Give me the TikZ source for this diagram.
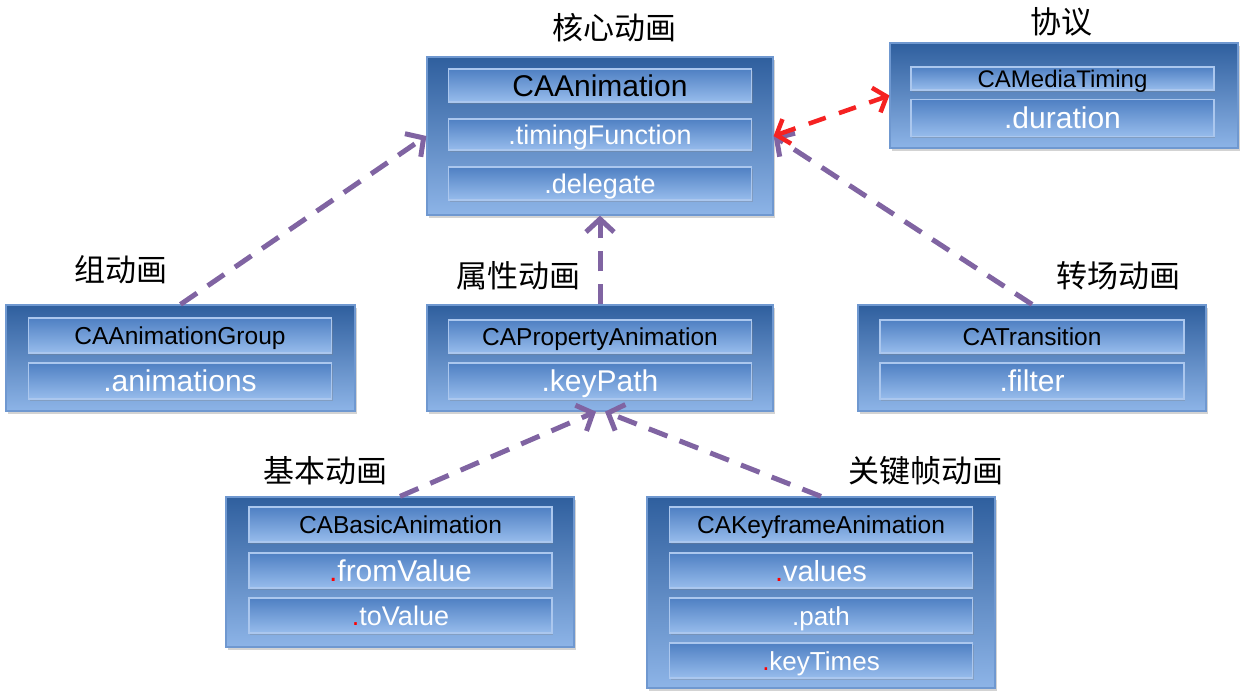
\documentclass[tikz,border=0pt]{standalone}
\usepackage{fontspec}
\setmainfont{Liberation Sans}
\newfontfamily\cjk{Noto Sans CJK SC}
\usetikzlibrary{arrows.meta,shadows}
\definecolor{boxtop}{HTML}{2F5F9E}
\definecolor{boxbot}{HTML}{8DB4E7}
\definecolor{boxedge}{HTML}{6F98D0}
\definecolor{bartop}{HTML}{4F80C3}
\definecolor{barbot}{HTML}{97BCEC}
\definecolor{baredge}{HTML}{ABC7EE}
\definecolor{purp}{HTML}{8064A2}
\definecolor{redc}{HTML}{F52222}
\begin{document}
\begin{tikzpicture}[x=1pt,y=-1pt,
  outer/.style={draw=boxedge, line width=1.2pt, top color=boxtop, bottom color=boxbot,
    inner sep=0, drop shadow={shadow xshift=2pt, shadow yshift=-3pt, opacity=0.35}},
  bar/.style={draw=baredge, line width=1.5pt, top color=bartop, bottom color=barbot,
    inner sep=0, minimum width=303pt,
    drop shadow={shadow xshift=1pt, shadow yshift=-2pt, opacity=0.3}},
  ttl/.style={bar, text=black, font={\fontsize{24.5}{28}\selectfont}, text height=17.6pt, text depth=0pt},
  big/.style={bar, text=black, font={\fontsize{30}{34}\selectfont}, text height=21.5pt, text depth=0pt},
  vA/.style={bar, text=white, font={\fontsize{30}{34}\selectfont}, text height=21.5pt, text depth=0pt},
  vB/.style={bar, text=white, font={\fontsize{27}{31}\selectfont}, text height=19.4pt, text depth=0pt},
  lbl/.style={font={\cjk\fontsize{31}{36}\selectfont}, inner sep=0},
  dep/.style={draw=purp, line width=5pt, dash pattern=on 20pt off 13pt,
    -{Straight Barb[length=13pt,width=28pt]}},
  proto/.style={draw=redc, line width=4.5pt, dash pattern=on 18pt off 14pt,
    {Straight Barb[length=11pt,width=26pt]}-{Straight Barb[length=11pt,width=26pt]}}
]
\useasboundingbox (0,0) rectangle (1240,698);

% CAAnimation
\node[outer, minimum width=346pt, minimum height=158pt] (anim) at (600,136) {};
\node[big, minimum height=33pt] (anim1) at (600,85.5) {CAAnimation};
\node[vB, minimum height=31pt] (anim2) at (600,134.5) {.timingFunction};
\node[vB, minimum height=33pt] (anim3) at (600,183.5) {.delegate};
\node[lbl] (animl) at (614,28) {核心动画};

% CAMediaTiming
\node[outer, minimum width=348pt, minimum height=105pt] (timing) at (1064,95.5) {};
\node[ttl, minimum height=23pt, font={\fontsize{24}{28}\selectfont}] (timing1) at (1062.5,78.5) {CAMediaTiming};
\node[vA, minimum height=37pt] (timing2) at (1062.5,118) {.duration};
\node[lbl] (timingl) at (1061,22) {协议};

% CAAnimationGroup
\node[outer, minimum width=349pt, minimum height=106pt] (group) at (180.5,358) {};
\node[ttl, minimum height=35pt] (group1) at (180,335.5) {CAAnimationGroup};
\node[vA, minimum height=36pt] (group2) at (180,381) {.animations};
\node[lbl] (groupl) at (121,270) {组动画};

% CAPropertyAnimation
\node[outer, minimum width=346pt, minimum height=106pt] (prop) at (600,358) {};
\node[ttl, minimum height=33pt] (prop1) at (600,336.5) {CAPropertyAnimation};
\node[vA, minimum height=36pt] (prop2) at (600,381) {.keyPath};
\node[lbl] (propl) at (518,276) {属性动画};

% CATransition
\node[outer, minimum width=348pt, minimum height=106pt] (trans) at (1032,358) {};
\node[ttl, minimum height=33pt, minimum width=304pt] (trans1) at (1032,336.5) {CATransition};
\node[vA, minimum height=36pt, minimum width=304pt] (trans2) at (1032,381) {.filter};
\node[lbl] (transl) at (1118,276) {转场动画};

% CABasicAnimation
\node[outer, minimum width=348pt, minimum height=150pt] (basic) at (400,572) {};
\node[ttl, minimum height=35pt] (basic1) at (400.5,524.5) {CABasicAnimation};
\node[vA, minimum height=35pt] (basic2) at (400.5,570.5) {\textcolor{red}{.}fromValue};
\node[vB, minimum height=35pt] (basic3) at (400.5,615.5) {\textcolor{red}{.}toValue};
\node[lbl] (basicl) at (325,471) {基本动画};

% CAKeyframeAnimation
\node[outer, minimum width=348pt, minimum height=191pt] (kf) at (821,592.5) {};
\node[ttl, minimum height=35pt] (kf1) at (821,524.5) {CAKeyframeAnimation};
\node[vA, minimum height=35pt, font={\fontsize{29}{33}\selectfont}] (kf2) at (821,570.5) {\textcolor{red}{.}values};
\node[vB, minimum height=35pt, font={\fontsize{26}{30}\selectfont}] (kf3) at (821,615.5) {.path};
\node[vB, minimum height=35pt, font={\fontsize{26}{30}\selectfont}] (kf4) at (821,660.5) {\textcolor{red}{.}keyTimes};
\node[lbl] (kfl) at (926,471) {关键帧动画};

% connectors
\draw[dep] (group.north) -- (anim.west);
\draw[dep] (prop.north) -- (anim.south);
\draw[dep] (trans.north) -- (anim.east);
\draw[dep] (basic.north) -- ([xshift=-4pt]prop.south);
\draw[dep] (kf.north) -- ([xshift=5pt]prop.south);
\draw[proto] (anim.east) -- (timing.west);
\end{tikzpicture}
\end{document}
